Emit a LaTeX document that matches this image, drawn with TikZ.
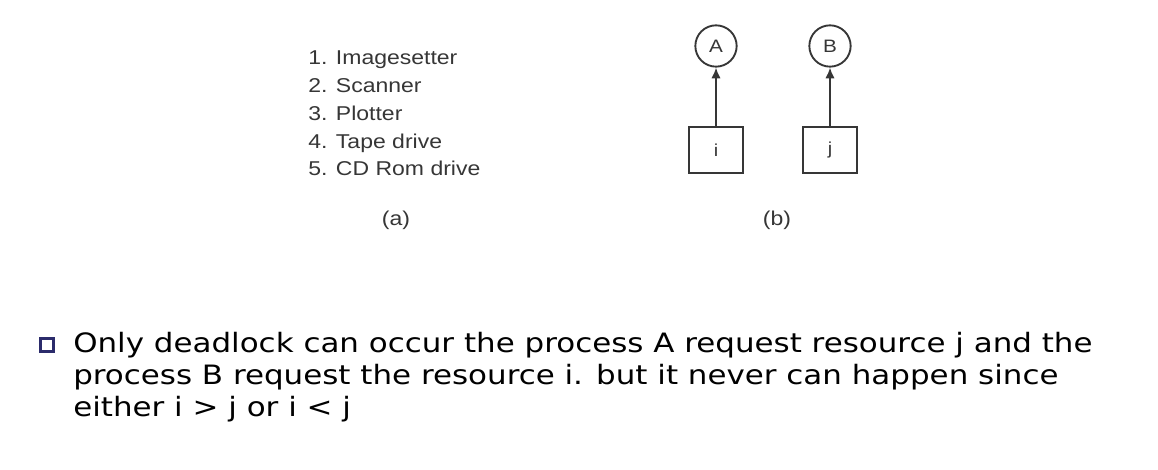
\documentclass[tikz,border=0pt]{standalone}
\usepackage{fontspec}
\setmainfont{DejaVu Sans}
\newfontfamily\bodyfont[FakeStretch=1.16]{DejaVu Sans}
\newfontfamily\figfont[FakeStretch=1.15]{Liberation Sans}
\usetikzlibrary{arrows.meta}
\definecolor{figgray}{HTML}{363636}
\definecolor{bulletblue}{HTML}{2B2B6B}

\begin{document}
\begin{tikzpicture}[x=0.75pt,y=-0.75pt,
  fig/.style={font=\figfont\fontsize{15}{20.8}\selectfont,text=figgray,inner sep=0pt},
  proc/.style={draw=figgray,circle,line width=1.4pt,minimum size=31pt,inner sep=0pt,
    font=\figfont\fontsize{13.5}{15}\selectfont,text=figgray},
  res/.style={draw=figgray,line width=1.4pt,minimum width=40pt,minimum height=35pt,inner sep=0pt,
    font=\figfont\fontsize{13}{15}\selectfont,text=figgray},
  req/.style={-{Latex[length=8pt,width=7pt]},draw=figgray,line width=1.4pt},
  body/.style={font=\bodyfont\fontsize{20}{24}\selectfont,anchor=base west,inner sep=0pt}]
  \useasboundingbox (0,0) rectangle (1158,470);

  % (a) resources, numbered
  \foreach \txt [count=\k] in {1. Imagesetter, 2. Scanner, 3. Plotter, 4. Tape drive, 5. CD Rom drive}
    \node[fig,anchor=base west] (dev\k) at (308,{65+27.7*(\k-1)}) {\txt};
  \node[fig] (capa) at (396,220) {(a)};

  % (b) processes holding resources
  \node[proc] (pA) at (716,46) {A};
  \node[proc] (pB) at (830,46) {B};
  \node[res] (ri) at (716,150) {i};
  \node[res] (rj) at (830,150) {j};
  \draw[req] (ri) -- (pA);
  \draw[req] (rj) -- (pB);
  \node[fig] (capb) at (777,220) {(b)};

  \node[draw=bulletblue,line width=2.2pt,minimum size=10pt,inner sep=0pt] (bullet) at (47,345) {};
  \node[body] (l1) at (73,353) {Only deadlock can occur the process A request resource j and the};
  \node[body] (l2) at (73,385) {process B request the resource i. but it never can happen since};
  \node[body] (l3) at (73,417) {either i > j or i < j};
\end{tikzpicture}
\end{document}
